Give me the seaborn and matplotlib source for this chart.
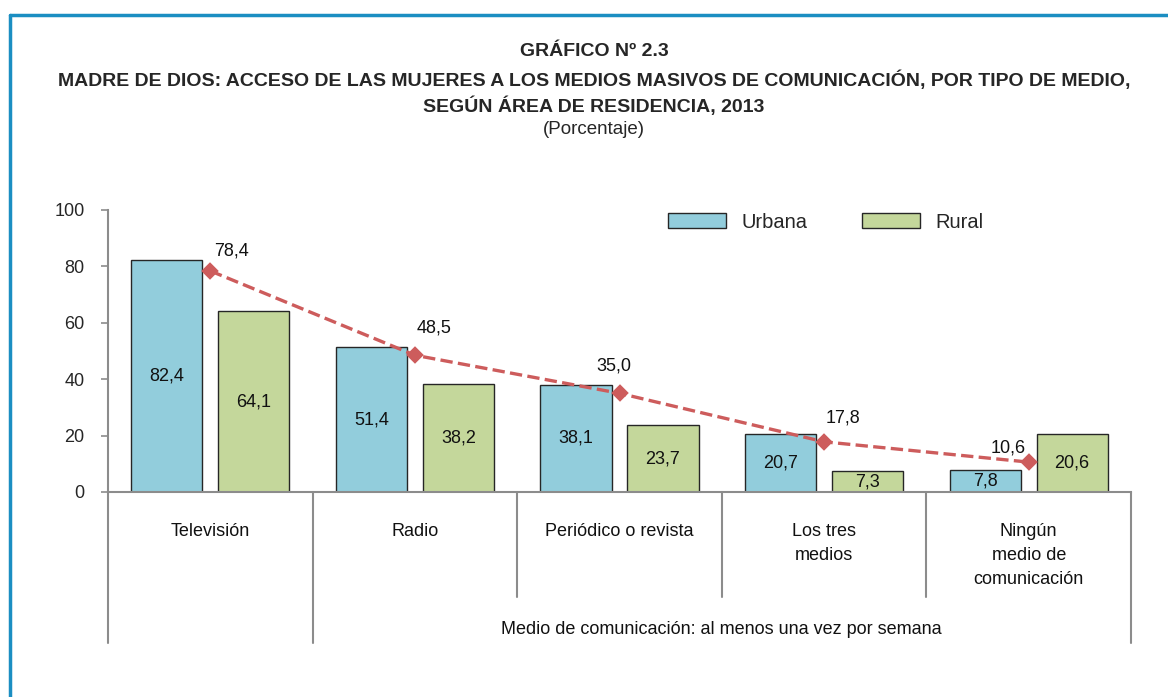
import pandas as pd
import seaborn as sns
import matplotlib.pyplot as plt
from matplotlib.lines import Line2D

# data
medios = ['Televisión', 'Radio', 'Periódico o revista', 'Los tres\nmedios', 'Ningún\nmedio de\ncomunicación']
urbana = [82.4, 51.4, 38.1, 20.7, 7.8]
rural = [64.1, 38.2, 23.7, 7.3, 20.6]
total = [78.4, 48.5, 35.0, 17.8, 10.6]
y_ticks = [0, 20, 40, 60, 80, 100]

# label offsets for the line values (pixels, x and y)
total_offsets = [(21, 20), (19, 27), (-6, 27), (19, 24), (-21, 14)]

df = pd.DataFrame({
    'Medio': medios * 2,
    'Valor': urbana + rural,
    'Area': ['Urbana'] * len(medios) + ['Rural'] * len(medios),
})

sns.set_theme(style='white')
plt.rcParams['font.family'] = ['Liberation Sans', 'DejaVu Sans']

W, H = 1168, 697
fig = plt.figure(figsize=(W / 100, H / 100), dpi=100)
ax = fig.add_axes([108 / W, 1 - 492 / H, (1131 - 108) / W, (492 - 210) / H])

blue = '#92CDDC'
green = '#C4D79B'
red = '#CD5C5C'

sns.barplot(data=df, x='Medio', y='Valor', hue='Area', palette=[blue, green], saturation=1,
            width=0.85, gap=0.18, edgecolor='#262626', linewidth=1, ax=ax, legend=True)

for cont in ax.containers:
    vals = [b.get_height() for b in cont]
    ax.bar_label(cont, labels=[f'{v:.1f}'.replace('.', ',') for v in vals],
                 label_type='center', fontsize=13, color='#111111')

sns.pointplot(x=medios, y=total, color=red, markers='D', linestyles='--',
              markersize=7, linewidth=2.4, errorbar=None, ax=ax)

for i, v in enumerate(total):
    dx, dy = total_offsets[i]
    ax.annotate(f'{v:.1f}'.replace('.', ','), (i, v), xytext=(dx * 0.72, dy * 0.72),
                textcoords='offset points', ha='center', va='center', fontsize=13, color='#111111')

ax.set_xlim(-0.5, len(medios) - 0.5)
ax.set_ylim(0, 100)
ax.set_yticks(y_ticks)
ax.set_yticklabels([str(t) for t in y_ticks], fontsize=13)
ax.set_xticks([])
ax.set_xlabel('')
ax.set_ylabel('')
for s in ['top', 'right']:
    ax.spines[s].set_visible(False)
for s in ['left', 'bottom']:
    ax.spines[s].set_color('#8c8c8c')
    ax.spines[s].set_linewidth(1.5)
ax.tick_params(axis='y', left=True, length=5, width=1.2, color='#8c8c8c', pad=12)

# category labels and grouping lines below the axis
tr = ax.get_xaxis_transform()
px = 1 / (492 - 210)
for i, m in enumerate(medios):
    ax.text(i, -31 * px, m, transform=tr, ha='center', va='top', fontsize=13,
            linespacing=1.55, color='#111111')
for i in range(len(medios) + 1):
    x = i - 0.5
    low = 151 if i in (0, 1, len(medios)) else 105
    ax.add_line(Line2D([x, x], [0, -low * px], transform=tr, color='#8c8c8c',
                       linewidth=1.5, clip_on=False))
ax.text(2.5, -137 * px, 'Medio de comunicación: al menos una vez por semana', transform=tr,
        ha='center', va='center', fontsize=13, color='#111111')

# legend
handles, labels = ax.get_legend_handles_labels()
fig.legend(handles[:2], labels[:2], loc='center left', bbox_to_anchor=(668 / W, 1 - 222 / H),
           ncol=2, frameon=False, fontsize=14.5, handlelength=2.9, handleheight=0.7,
           handletextpad=0.75, columnspacing=2.7, borderpad=0, borderaxespad=0)
if ax.get_legend() is not None:
    ax.get_legend().remove()

# titles
tx = 594 / W
fig.text(tx, 1 - 52 / H, 'GRÁFICO Nº 2.3', ha='center', va='center', fontsize=14, fontweight='bold')
fig.text(tx, 1 - 80 / H, 'MADRE DE DIOS: ACCESO DE LAS MUJERES A LOS MEDIOS MASIVOS DE COMUNICACIÓN, POR TIPO DE MEDIO,',
         ha='center', va='center', fontsize=14, fontweight='bold')
fig.text(tx, 1 - 106 / H, 'SEGÚN ÁREA DE RESIDENCIA, 2013', ha='center', va='center', fontsize=14, fontweight='bold')
fig.text(tx, 1 - 130 / H, '(Porcentaje)', ha='center', va='center', fontsize=13.5)

# blue frame (top and left edges visible)
frame = '#1B8EC2'
fig.add_artist(Line2D([10 / W, 1], [1 - 15 / H, 1 - 15 / H], transform=fig.transFigure, color=frame, linewidth=2.5))
fig.add_artist(Line2D([10 / W, 10 / W], [0, 1 - 15 / H], transform=fig.transFigure, color=frame, linewidth=2.5))

fig.savefig('out.png', dpi=100)
